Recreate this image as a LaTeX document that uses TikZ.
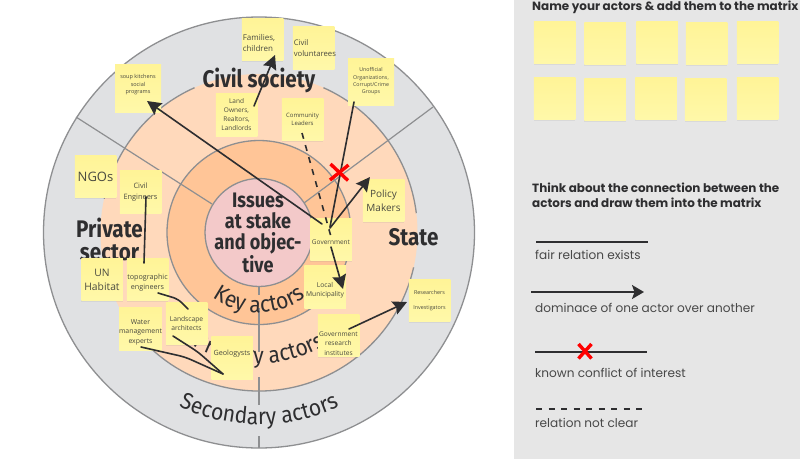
\documentclass[tikz,border=0pt]{standalone}
\usepackage{fontspec}
\usetikzlibrary{arrows.meta,shadows,decorations.text}
\newfontfamily\din[FakeStretch=0.86]{Fira Sans}
\newfontfamily\ringdin[FakeStretch=0.92]{Fira Sans}
\newfontfamily\notefont{Open Sans}
\newfontfamily\panelfont{Poppins}
\newcommand{\fs}[1]{\fontsize{#1pt}{1.38\dimexpr #1pt\relax}\selectfont}
\newcommand{\ringfont}{\ringdin\fontsize{23pt}{23pt}\selectfont}
\newcommand{\dn}[1]{\rule{0pt}{#1}}
\newcommand{\up}[1]{\rule[-#1]{0pt}{#1}}
\definecolor{outerfill}{HTML}{E0E1E3}
\definecolor{ringstroke}{HTML}{8E8F91}
\definecolor{peach}{HTML}{FFD9BB}
\definecolor{keyfill}{HTML}{FFC597}
\definecolor{innerfill}{HTML}{F3C9C9}
\definecolor{noteA}{HTML}{FFF497}
\definecolor{noteB}{HTML}{FFF8A9}
\definecolor{panelbg}{HTML}{E6E6E6}
\definecolor{ink}{HTML}{2E2E30}
\definecolor{notetext}{HTML}{4A4A40}
\definecolor{paneltext}{HTML}{484848}
\tikzset{
  note/.style={draw=none,top color=noteA,bottom color=noteB,minimum width=41.5pt,minimum height=42.5pt,inner sep=0pt,
    align=center,text=notetext,font=\notefont,
    drop shadow={opacity=.12,shadow xshift=0pt,shadow yshift=-1pt}},
  leftnote/.style={note,align=left,text width=39.5pt},
  ring/.style={draw=ringstroke,line width=1.3pt},
  divider/.style={draw=ringstroke,line width=1.2pt},
  link/.style={draw=ink,line width=1.6pt,line cap=round,line join=round},
  dom/.style={link,-{Stealth[length=14pt,width=14pt,inset=2pt]}},
  unclear/.style={link,line cap=butt,dash pattern=on 6pt off 6.5pt},
  cross/.style={draw=red,line width=3.4pt},
  sector/.style={font=\din\bfseries\fs{24},text=ink,inner sep=0pt,anchor=base,align=center},
  head/.style={font=\panelfont\bfseries\fs{11.95},text=ink,inner sep=0pt,anchor=base west},
  legendtext/.style={font=\panelfont\fs{12.1},text=paneltext,inner sep=0pt,anchor=base west},
  curved/.style={decoration={text along path,text align=center,text color=ink,text={|\ringfont|#1}},decorate},
}
\begin{document}
\begin{tikzpicture}[x=1pt,y=-1pt]
\useasboundingbox (0,0) rectangle (800,459);
\fill[white] (0,0) rectangle (800,459);
\fill[panelbg] (513.5,0) rectangle (800,459);

% rings
\begin{scope}[shift={(259,232.5)},x=1pt,y=1pt]
  \path[ring,fill=outerfill] (0,0) circle[radius=215.5];
  \fill[peach] (0,0) circle[radius=158.5];
  \draw[ring] (114:158.5) arc[start angle=114,end angle=167.7,radius=158.5];
  \draw[ring] (66:158.5) arc[start angle=66,end angle=7,radius=158.5];
  \draw[ring] (-12.7:158.5) arc[start angle=-12.7,end angle=-150.5,radius=158.5];
  \path[ring,fill=keyfill] (0,0) circle[radius=92];
  \coordinate (divUL) at (-183,115.5);
  \coordinate (divULin) at (-47,28.5);
  \coordinate (divUR) at (174,125.5);
  \coordinate (divURin) at (45,29.5);
  \draw[divider] (divUL) -- (divULin);
  \draw[divider] (divUR) -- (divURin);
  \path[ring,fill=innerfill] (0,0) circle[radius=54];
  \draw[divider] (0,-54.5) -- (0,-62.5);
  \draw[divider] (0,-75.5) -- (0,-119.5);
  \draw[divider] (0,-144.5) -- (0,-172.5);
  \draw[divider] (0,-203.5) -- (0,-215.5);
  \path[curved={Secondary actors}] (-150:192) arc[start angle=-150,end angle=-30,radius=192];
  \path[curved={Primary actors}] (-155:131) arc[start angle=-155,end angle=-25,radius=131];
  \path[curved={Key actors}] (-170:80) arc[start angle=-170,end angle=-10,radius=80];
\end{scope}

% centre and sector labels
\node[sector,font=\din\bfseries\fontsize{21pt}{20.8pt}\selectfont] (issues) at (258,272) {Issues\\at stake\\and objec-\\tive};
\node[sector] (civil) at (259,87) {Civil society};
\node[sector] (privA) at (109.5,237) {Private};
\node[sector] (privB) at (109.5,260) {sector};
\node[sector] (state) at (413.5,245) {State};

% notes in the matrix
\node[note,font=\notefont\fs{5.5},minimum width=46pt,minimum height=48pt] (soup) at (138,88) {soup kitchens\\social\\programs\up{8pt}};
\node[leftnote,font=\notefont\fs{8}] (fam) at (262.5,39.5) {\dn{13pt}Families,\\children};
\node[leftnote,font=\notefont\fs{7.7}] (vol) at (313.5,48) {Civil\\voluntarees};
\node[note,font=\notefont\fs{6.5}] (land) at (236.5,115) {Land\\Owners,\\Realtors,\\Landlords};
\node[note,font=\notefont\fs{6}] (comm) at (302.5,119.5) {Community\\Leaders};
\node[note,font=\notefont\fs{5.3},minimum width=46pt,minimum height=47pt] (unoff) at (371,81.5) {Unofficial\\Organizations,\\Corrupt/Crime\\Groups};
\node[note,font=\notefont\fs{10}] (policy) at (383.5,200.5) {Policy\\Makers};
\node[note,font=\notefont\fs{13}] (ngo) at (95.5,176.5) {NGOs};
\node[note,font=\notefont\fs{7.4}] (eng) at (140.5,192) {Civil\\Engineers};
\node[note,font=\notefont\fs{10.3}] (un) at (102,279.5) {UN\\Habitat};
\node[note,font=\notefont\fs{7.2}] (topo) at (147.5,279.5) {\dn{12pt}topographic\\engineers};
\node[note,font=\notefont\fs{6.7}] (lands) at (186.5,323.5) {Landscape\\architects};
\node[note,font=\notefont\fs{6.9}] (water) at (140.5,329) {\dn{11pt}Water\\management\\experts};
\node[note,font=\notefont\fs{7.2}] (geo) at (232,358) {Geologysts\up{10pt}};
\node[note,font=\notefont\fs{6.5}] (gov) at (331,239.5) {\dn{10pt}Government};
\node[note,font=\notefont\fs{6.7}] (local) at (325,287) {\dn{11pt}Local\\Municipality};
\node[note,font=\notefont\fs{6.6}] (res) at (338.5,335.5) {\dn{21pt}Government\\research\\institutes};
\node[note,font=\notefont\fs{5.4}] (inv) at (429.5,300.5) {Researchers\\-\\Investigators};

% connectors
\draw[dom] ([shift={(-9,-15.5)}]gov.center) -- ([shift={(9,13)}]soup.center);
\draw[dom] ([shift={(17.5,-9)}]land.center) -- ([shift={(12.5,15.5)}]fam.center);
\draw[unclear] ([shift={(-0.5,13.5)}]comm.center) -- ([shift={(-0.5,-4.5)}]gov.center);
\draw[link] ([shift={(-17,20.5)}]unoff.center) -- ([shift={(-1,-12.5)}]gov.center);
\draw[dom] ([shift={(-1,-11.5)}]gov.center) -- ([shift={(-13.5,-23.5)}]policy.center);
\draw[dom] ([shift={(0,7.5)}]gov.center) -- ([shift={(18,2)}]local.center);
\draw[dom] ([shift={(10.5,-6.5)}]res.center) -- ([shift={(-22.5,1.5)}]inv.center);
\draw[link] ([shift={(5.5,5)}]eng.center) -- ([shift={(-3.5,-16.5)}]topo.center);
\draw[link,rounded corners=5pt] ([shift={(10.5,13.5)}]topo.center) -- (178,299) -- ([shift={(1.5,-14.5)}]lands.center);
\draw[link,rounded corners=6pt] ([shift={(-13.5,12.5)}]lands.center) -- (198,352) -- ([shift={(-9,16)}]geo.center);
\draw[link,rounded corners=6pt] ([shift={(0.5,18)}]water.center) -- (185,357) -- ([shift={(-9,16)}]geo.center);
\coordinate (xa) at (330.5,164);
\coordinate (xb) at (348,180.5);
\coordinate (xc) at (348.5,165);
\coordinate (xd) at (330,180);
\draw[cross] (xa) -- (xb);
\draw[cross] (xc) -- (xd);

% panel
\node[head] (h1) at (532,10) {Name your actors \& add them to the matrix};
\foreach \n/\cx/\cy in {a/554.5/42.5,b/605/43.5,c/657/42.5,d/706.5/43.5,e/757.5/42.5,
                         f/554.5/98.5,g/605/99.5,h/656/98.5,i/705.5/99.5,j/757.5/98.5}
  \node[note] (p\n) at (\cx,\cy) {};
\node[head] (h2) at (532,192) {Think about the connection between the};
\node[head] (h3) at (532,207) {actors and draw them into the matrix};

\coordinate (l1a) at (536,242); \coordinate (l1b) at (648,242);
\draw[link,line cap=butt] (l1a) -- (l1b);
\node[legendtext] (t1) at (535,259) {fair relation exists};
\coordinate (l2a) at (531,292); \coordinate (l2b) at (644,292);
\draw[link,line cap=butt,-{Stealth[length=12pt,width=14pt,inset=2.5pt]}] (l2a) -- (l2b);
\node[legendtext] (t2) at (535,312) {dominace of one actor over another};
\coordinate (l3a) at (535,352); \coordinate (l3b) at (647,352);
\draw[link,line cap=butt] (l3a) -- (l3b);
\coordinate (ya) at (578.5,344); \coordinate (yb) at (591.5,358.5);
\coordinate (yc) at (591.5,344); \coordinate (yd) at (578.5,358.5);
\draw[cross] (ya) -- (yb);
\draw[cross] (yc) -- (yd);
\node[legendtext] (t3) at (535,377) {known conflict of interest};
\coordinate (l4a) at (536,409); \coordinate (l4b) at (648,409);
\draw[unclear] (l4a) -- (l4b);
\node[legendtext] (t4) at (535,427) {relation not clear};
\end{tikzpicture}
\end{document}
